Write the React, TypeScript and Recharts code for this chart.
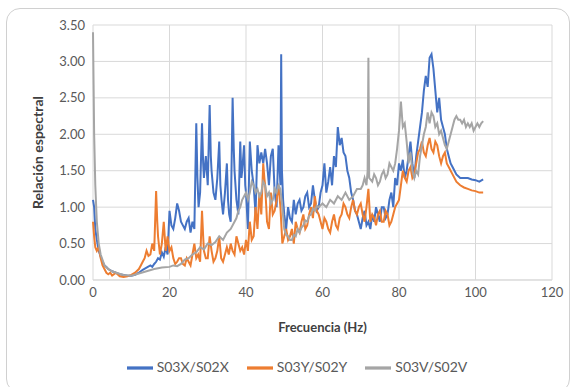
import { LineChart, Line, XAxis, YAxis, CartesianGrid, Legend } from 'recharts';

// S03X/S02X
const freqX = [0, 0.3, 0.6, 1, 1.5, 2, 2.5, 3, 3.5, 4, 5, 6, 7, 8, 9, 10, 11, 12, 13, 14, 15, 15.5, 16, 16.5, 17, 17.5, 18, 18.5, 19, 19.5, 20, 20.5, 21, 21.5, 22, 22.5, 23, 23.5, 24, 24.5, 25, 25.5, 26, 26.5, 27, 27.3, 27.6, 28, 28.5, 28.8, 29, 29.5, 30, 30.5, 30.8, 31, 31.5, 32, 32.5, 33, 33.3, 33.6, 34, 34.5, 35, 35.3, 35.6, 36, 36.5, 36.8, 37, 37.5, 38, 38.5, 38.8, 39, 39.5, 39.8, 40, 40.5, 41, 41.5, 42, 42.5, 43, 43.5, 44, 44.5, 45, 45.5, 46, 46.5, 47, 47.5, 48, 48.5, 49, 49.2, 49.4, 49.7, 50, 50.5, 51, 51.5, 52, 52.5, 53, 53.5, 54, 54.5, 55, 55.5, 56, 56.5, 57, 57.5, 58, 58.5, 59, 59.5, 60, 60.5, 61, 61.5, 62, 62.5, 63, 63.5, 64, 64.5, 65, 65.5, 66, 66.5, 67, 67.5, 68, 68.5, 69, 69.5, 70, 70.5, 71, 71.5, 72, 72.5, 73, 73.5, 74, 74.5, 75, 75.5, 76, 76.5, 77, 77.5, 78, 78.5, 79, 79.5, 80, 80.5, 81, 81.5, 82, 82.5, 83, 83.5, 84, 84.5, 85, 85.5, 86, 86.5, 87, 87.5, 88, 88.5, 89, 89.5, 90, 90.5, 91, 91.5, 92, 92.5, 93, 93.5, 94, 95, 96, 97, 98, 99, 100, 101, 102];
const valX = [1.1, 1.0, 0.7, 0.55, 0.4, 0.32, 0.25, 0.2, 0.18, 0.15, 0.12, 0.1, 0.08, 0.07, 0.06, 0.06, 0.07, 0.1, 0.14, 0.17, 0.2, 0.18, 0.22, 0.25, 0.3, 0.28, 0.38, 0.32, 0.45, 0.35, 0.95, 0.75, 0.7, 0.85, 1.05, 0.95, 0.8, 0.75, 0.7, 0.8, 0.85, 0.65, 0.8, 0.7, 2.15, 1.4, 1.0, 1.2, 2.15, 1.6, 1.4, 1.7, 1.3, 2.4, 1.7, 1.5, 1.2, 1.1, 1.4, 1.9, 1.3, 1.1, 0.9, 1.2, 1.6, 1.1, 0.9, 0.8, 2.5, 1.8, 1.5, 1.1, 0.9, 1.9, 1.4, 1.5, 1.85, 1.3, 1.2, 0.7, 1.9, 1.5, 1.3, 0.9, 1.85, 1.6, 1.75, 1.6, 1.8, 1.6, 1.3, 1.7, 1.8, 1.2, 1.0, 1.85, 1.3, 3.1, 1.5, 1.1, 0.9, 0.7, 1.0, 0.85, 0.8, 1.1, 0.9, 1.05, 1.1, 0.95, 1.0, 1.15, 1.2, 1.0, 1.05, 1.3, 1.1, 0.95, 1.0, 1.2, 1.3, 1.6, 1.2, 1.35, 1.55, 1.3, 1.7, 1.55, 2.1, 1.85, 1.95, 1.75, 1.7, 1.5, 1.4, 1.2, 1.1, 0.95, 0.9, 0.8, 0.7, 0.85, 0.95, 0.75, 0.8, 0.7, 0.9, 0.8, 1.0, 0.9, 0.8, 1.0, 1.0, 0.85, 0.9, 1.1, 1.2, 1.0, 1.4, 1.3, 1.6, 1.5, 1.65, 1.4, 1.5, 1.7, 1.9, 1.6, 1.4, 1.7, 1.9, 2.1, 2.3, 2.6, 2.8, 2.65, 3.05, 3.1, 2.9, 2.6, 2.3, 2.5, 2.2, 2.1, 2.0, 1.8, 1.7, 1.6, 1.55, 1.45, 1.4, 1.4, 1.4, 1.38, 1.37, 1.35, 1.38];

// S03Y/S02Y
const freqY = [0, 0.3, 0.6, 1, 1.5, 2, 2.5, 3, 3.5, 4, 4.5, 5, 6, 7, 8, 9, 10, 11, 12, 12.5, 13, 13.5, 14, 14.5, 15, 15.5, 16, 16.5, 16.8, 17, 17.5, 18, 18.5, 19, 19.5, 20, 20.5, 21, 21.5, 22, 22.5, 23, 23.5, 24, 24.5, 25, 25.5, 26, 26.5, 27, 27.5, 28, 28.5, 28.8, 29, 29.5, 30, 30.5, 31, 31.5, 32, 32.5, 33, 33.5, 34, 34.5, 35, 35.5, 36, 36.5, 37, 37.5, 38, 38.5, 39, 39.5, 40, 40.5, 41, 41.5, 42, 42.5, 43, 43.5, 44, 44.5, 44.8, 45, 45.5, 46, 46.5, 47, 47.5, 48, 48.5, 49, 49.5, 50, 50.5, 51, 51.5, 52, 52.5, 53, 53.5, 54, 54.5, 55, 55.5, 56, 56.5, 57, 57.5, 58, 58.5, 59, 59.5, 60, 60.5, 61, 61.5, 62, 62.5, 63, 63.5, 64, 64.5, 65, 65.5, 66, 66.5, 67, 67.5, 68, 68.5, 69, 69.5, 70, 70.5, 71, 71.5, 72, 72.5, 73, 73.5, 74, 74.5, 75, 75.5, 76, 76.5, 77, 77.5, 78, 78.5, 79, 79.5, 80, 80.5, 81, 81.5, 82, 82.5, 83, 83.5, 84, 84.5, 85, 85.5, 86, 86.5, 87, 87.5, 88, 88.5, 89, 89.5, 90, 90.5, 91, 91.5, 92, 92.5, 93, 94, 95, 96, 97, 98, 99, 100, 101, 102];
const valY = [0.8, 0.6, 0.45, 0.4, 0.45, 0.3, 0.2, 0.15, 0.1, 0.08, 0.1, 0.06, 0.1, 0.05, 0.04, 0.05, 0.07, 0.1, 0.15, 0.2, 0.25, 0.3, 0.4, 0.33, 0.35, 0.5, 0.4, 1.22, 0.8, 0.6, 0.35, 0.5, 0.8, 0.4, 0.6, 0.4, 0.45, 0.3, 0.22, 0.25, 0.3, 0.3, 0.22, 0.2, 0.3, 0.25, 0.2, 0.35, 0.5, 0.3, 0.35, 0.25, 0.95, 0.6, 0.4, 0.3, 0.3, 0.6, 0.4, 0.25, 0.3, 0.4, 0.6, 0.3, 0.25, 0.35, 0.45, 0.35, 0.5, 0.4, 0.35, 0.6, 0.5, 0.4, 0.45, 0.35, 0.55, 0.4, 0.8, 0.55, 0.6, 1.0, 0.7, 1.2, 0.9, 1.6, 1.4, 1.3, 0.8, 0.7, 1.2, 0.9, 0.95, 1.1, 1.3, 1.0, 0.5, 0.6, 0.7, 0.55, 0.6, 0.7, 0.5, 0.8, 0.7, 0.65, 0.8, 0.9, 0.7, 0.75, 0.9, 1.0, 0.85, 1.15, 0.95, 0.9, 0.8, 0.7, 0.85, 0.8, 0.7, 0.65, 0.8, 0.9, 0.75, 0.7, 0.85, 0.9, 1.05, 1.0, 0.9, 0.85, 1.0, 1.1, 0.95, 0.9, 1.0, 1.05, 0.9, 0.8, 1.0, 1.25, 0.8, 0.9, 0.85, 0.75, 0.9, 0.95, 0.8, 0.8, 0.95, 0.9, 0.75, 0.8, 0.9, 1.0, 1.05, 1.1, 1.3, 1.5, 1.4, 1.35, 1.5, 1.55, 1.4, 1.45, 1.6, 1.75, 1.8, 1.9, 1.75, 1.7, 1.85, 1.95, 1.8, 1.75, 1.9, 1.85, 1.7, 1.6, 1.7, 1.75, 1.6, 1.55, 1.45, 1.35, 1.3, 1.27, 1.25, 1.23, 1.22, 1.2, 1.2];

// S03V/S02V
const freqV = [0, 0.3, 0.6, 1, 1.5, 2, 3, 4, 5, 6, 8, 10, 12, 14, 16, 18, 20, 21, 22, 23, 24, 25, 26, 27, 28, 29, 30, 31, 32, 33, 34, 35, 36, 37, 37.5, 38, 38.5, 39, 39.5, 40, 40.5, 41, 41.5, 42, 42.5, 43, 43.5, 44, 44.5, 45, 45.5, 46, 46.5, 47, 47.5, 48, 48.5, 49, 49.5, 50, 50.5, 51, 51.5, 52, 52.5, 53, 53.5, 54, 54.5, 55, 55.5, 56, 56.5, 57, 57.5, 58, 58.5, 59, 60, 61, 62, 63, 64, 65, 66, 67, 68, 69, 70, 70.5, 71, 71.5, 71.8, 72, 72.2, 73, 73.5, 74, 74.5, 75, 75.5, 76, 76.5, 77, 77.5, 78, 78.5, 79, 79.5, 80, 80.5, 81, 81.5, 82, 82.5, 83, 83.5, 84, 84.5, 85, 85.5, 86, 86.5, 87, 87.5, 88, 88.5, 89, 89.5, 90, 90.5, 91, 91.5, 92, 92.5, 93, 93.5, 94, 94.5, 95, 95.5, 96, 96.5, 97, 97.5, 98, 98.5, 99, 99.5, 100, 100.5, 101, 101.5, 102];
const valV = [3.4, 2.0, 1.3, 0.8, 0.5, 0.35, 0.2, 0.15, 0.12, 0.1, 0.07, 0.06, 0.09, 0.12, 0.15, 0.17, 0.18, 0.2, 0.19, 0.22, 0.28, 0.3, 0.35, 0.38, 0.45, 0.42, 0.5, 0.48, 0.52, 0.6, 0.55, 0.65, 0.7, 0.8, 0.85, 0.95, 1.0, 1.1, 1.15, 1.2, 1.1, 1.2, 1.35, 1.3, 1.2, 1.25, 1.15, 1.2, 1.35, 1.3, 1.15, 1.2, 1.05, 1.1, 1.25, 1.2, 1.3, 1.25, 1.0, 0.7, 0.62, 0.6, 0.55, 0.55, 0.62, 0.6, 0.7, 0.65, 0.72, 0.75, 0.82, 0.8, 0.88, 0.9, 0.98, 0.95, 1.02, 1.0, 1.05, 1.0, 1.1, 1.05, 1.15, 1.1, 1.2, 1.1, 1.15, 1.25, 1.25, 1.3, 1.4, 1.3, 1.5, 3.05, 1.4, 1.35, 1.45, 1.4, 1.3, 1.35, 1.45, 1.5, 1.4, 1.45, 1.6, 1.55, 1.5, 1.6, 1.8, 2.05, 2.45, 2.1, 2.15, 1.9, 1.6, 1.75, 1.5, 1.4, 1.5, 1.45, 1.7, 1.85, 2.0, 2.1, 2.3, 2.15, 2.3, 2.25, 2.1, 2.15, 2.0, 2.05, 1.95, 1.85, 1.8, 1.9, 2.0, 2.1, 2.2, 2.25, 2.2, 2.2, 2.15, 2.2, 2.1, 2.15, 2.1, 2.15, 2.05, 2.1, 2.15, 2.1, 2.15, 2.18];

const seriesNames = ['S03X/S02X', 'S03Y/S02Y', 'S03V/S02V'];
const xTicks = [0, 20, 40, 60, 80, 100, 120];
const yTicks = [0, 0.5, 1, 1.5, 2, 2.5, 3, 3.5];

const toPoints = (f: number[], v: number[]) => f.map((x, i) => ({ f: x, v: v[i] }));

const font = 'Lato, "Open Sans", sans-serif';

export default function App() {
  return (
    <div style={{ position: 'absolute', left: 0, top: 0, width: 574, height: 387, background: '#fff', fontFamily: font }}>
      <div style={{ position: 'absolute', left: 6, top: 8, width: 564, height: 385, border: '1px solid #d0d0d0', borderRadius: 14, boxSizing: 'border-box' }} />
      <LineChart width={574} height={387} margin={{ top: 25, right: 22, left: 0, bottom: 0 }}>
        <CartesianGrid stroke="#d9d9d9" />
        <XAxis
          type="number"
          dataKey="f"
          domain={[0, 120]}
          ticks={xTicks}
          stroke="#d9d9d9"
          tickLine={false}
          tick={{ fill: '#595959', fontSize: 13, fontFamily: font }}
          height={55}
          label={{ value: 'Frecuencia (Hz)', position: 'insideBottom', offset: 3, fill: '#404040', fontSize: 13, fontWeight: 700, fontFamily: font }}
        />
        <YAxis
          type="number"
          domain={[0, 3.5]}
          ticks={yTicks}
          tickFormatter={(t: number) => t.toFixed(2)}
          axisLine={false}
          tickLine={false}
          tick={{ fill: '#595959', fontSize: 13, fontFamily: font }}
          width={93}
          label={{ value: 'Relación espectral', angle: -90, position: 'insideLeft', offset: 38, fill: '#404040', fontSize: 14, fontWeight: 700, fontFamily: font, style: { textAnchor: 'middle' } }}
        />
        <Legend
          verticalAlign="bottom"
          height={52}
          iconType="plainline"
          iconSize={26}
          itemSorter={(item: any) => seriesNames.indexOf(item.value)}
          wrapperStyle={{ fontFamily: font, fontSize: 14, top: 355, paddingLeft: 30 }}
          formatter={(value: string) => <span style={{ color: '#595959', marginRight: 8 }}>{value}</span>}
        />
        <Line data={toPoints(freqX, valX)} dataKey="v" name={seriesNames[0]} stroke="#4472C4" strokeWidth={2} dot={false} isAnimationActive={false} />
        <Line data={toPoints(freqY, valY)} dataKey="v" name={seriesNames[1]} stroke="#ED7D31" strokeWidth={2} dot={false} isAnimationActive={false} />
        <Line data={toPoints(freqV, valV)} dataKey="v" name={seriesNames[2]} stroke="#A5A5A5" strokeWidth={2} dot={false} isAnimationActive={false} />
      </LineChart>
    </div>
  );
}
